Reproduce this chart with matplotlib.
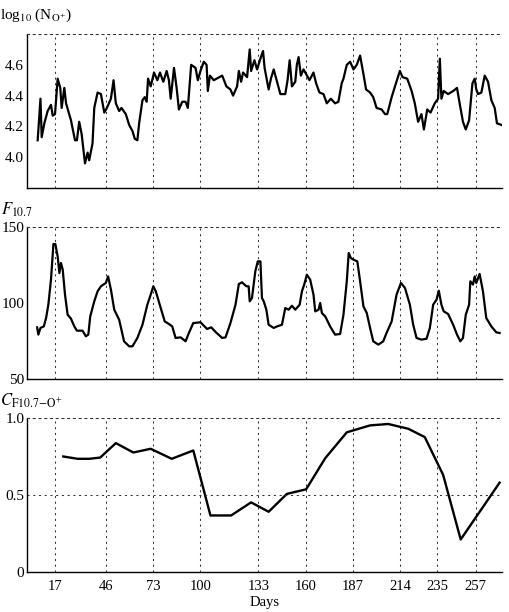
import matplotlib
matplotlib.use("Agg")
import matplotlib.pyplot as plt

plt.rcParams["font.family"] = ["Liberation Serif", "DejaVu Serif"]
plt.rcParams["mathtext.fontset"] = "stix"

# top panel: log10 of O+ density
n_days = [7.1, 8.7, 9.4, 10.9, 12.8, 14.7, 15.7, 17.0, 18.5, 20.0, 20.8, 22.3, 23.3, 26.1,
          28.4, 29.5, 30.8, 32.2, 34.1, 35.6, 36.5, 38.4, 39.4, 41.3, 43.2, 45.1, 46.6,
          48.9, 50.4, 51.7, 53.6, 54.9, 57.4, 59.3, 61.2, 62.5, 64.0, 65.0, 66.9, 68.2,
          69.3, 70.1, 71.6, 73.5, 75.4, 76.9, 78.8, 80.7, 82.0, 83.0, 84.9, 86.4, 87.7,
          89.6, 91.5, 92.8, 94.7, 97.2, 98.5, 100.0, 101.9, 103.5, 104.2, 105.4, 107.6,
          112.4, 114.8, 117.1, 118.6, 120.9, 121.9, 123.2, 124.3, 126.6, 128.1, 128.9,
          130.8, 132.3, 134.2, 135.7, 136.6, 138.9, 140.2, 141.8, 143.7, 145.6, 148.4,
          149.7, 150.9, 152.2, 154.1, 155.0, 156.0, 157.3, 158.8, 160.3, 162.2, 164.5,
          166.0, 167.9, 170.2, 172.1, 174.4, 176.8, 178.7, 180.6, 181.6, 183.5, 185.4,
          187.3, 189.2, 191.1, 193.0, 194.5, 196.8, 198.6, 200.5, 203.4, 205.3, 206.6,
          209.1, 211.0, 213.8, 215.3, 218.0, 220.5, 222.3, 224.2, 226.1, 227.5, 229.4,
          231.3, 233.7, 235.6, 236.6, 237.5, 238.8, 241.3, 244.2, 246.4, 247.9, 249.8,
          251.4, 253.3, 255.2, 256.5, 257.4, 258.4, 260.3, 262.2, 264.1, 266.0, 267.9,
          269.2, 271.7]
n_vals = [4.11, 4.38, 4.13, 4.22, 4.30, 4.34, 4.27, 4.28, 4.51, 4.45, 4.32, 4.45, 4.35, 4.24,
          4.11, 4.11, 4.23, 4.15, 3.96, 4.03, 3.98, 4.09, 4.32, 4.42, 4.41, 4.29, 4.32,
          4.38, 4.50, 4.35, 4.30, 4.32, 4.28, 4.21, 4.17, 4.12, 4.11, 4.22, 4.37, 4.39,
          4.36, 4.51, 4.46, 4.55, 4.50, 4.55, 4.49, 4.56, 4.50, 4.38, 4.58, 4.45, 4.31,
          4.36, 4.36, 4.32, 4.60, 4.58, 4.50, 4.56, 4.62, 4.60, 4.43, 4.53, 4.50,
          4.53, 4.46, 4.44, 4.40, 4.46, 4.56, 4.49, 4.55, 4.52, 4.70, 4.56,
          4.63, 4.57, 4.64, 4.69, 4.58, 4.44, 4.51, 4.57, 4.49, 4.41, 4.41,
          4.50, 4.63, 4.46, 4.49, 4.60, 4.65, 4.53, 4.57, 4.54, 4.50, 4.55,
          4.48, 4.42, 4.41, 4.35, 4.38, 4.35, 4.36, 4.48, 4.51, 4.60, 4.62,
          4.57, 4.60, 4.66, 4.54, 4.44, 4.42, 4.39, 4.32, 4.31, 4.28, 4.28,
          4.39, 4.46, 4.56, 4.52, 4.51, 4.43, 4.35, 4.23, 4.28, 4.18, 4.31,
          4.29, 4.35, 4.38, 4.64, 4.38, 4.43, 4.41, 4.43, 4.45, 4.35, 4.23,
          4.18, 4.24, 4.48, 4.51, 4.44, 4.41, 4.42, 4.53, 4.49, 4.37, 4.32,
          4.22, 4.21]

# middle panel: F10.7 solar flux
f_days = [6.8, 7.5, 8.7, 10.6, 11.9, 13.2, 14.7, 16.1, 17.2, 18.5, 19.5, 20.4, 21.4, 22.7,
          24.2, 26.1, 28.0, 29.5, 32.7, 34.6, 36.0, 37.1, 39.4, 41.3, 43.2, 46.0, 47.3,
          48.9, 50.8, 53.6, 56.4, 59.3, 61.2, 64.0, 66.9, 69.7, 71.6, 73.1, 74.5, 77.3,
          79.6, 82.0, 83.9, 85.8, 88.7, 91.5, 93.4, 95.9, 100.0, 102.3, 103.8, 106.1,
          109.2, 112.4, 114.3, 117.1, 120.0, 121.9, 123.7, 126.2, 127.5, 128.1, 129.4,
          131.3, 132.7, 134.2, 135.1, 136.1, 137.6, 138.9, 141.8, 143.7, 146.5, 148.4,
          150.3, 152.2, 154.1, 156.6, 157.9, 159.2, 160.7, 162.6, 164.5, 165.5, 167.4,
          168.3, 169.3, 171.2, 174.0, 176.8, 179.7, 181.6, 183.5, 184.6, 185.8, 187.3,
          189.5, 191.1, 193.0, 194.9, 196.8, 198.6, 201.5, 204.3, 206.2, 209.1, 211.9,
          214.4, 216.7, 219.5, 221.4, 223.3, 226.1, 229.0, 230.9, 232.8, 234.7, 236.0,
          237.5, 238.8, 241.3, 244.2, 246.4, 248.3, 249.8, 251.4, 253.3, 254.0, 255.5,
          256.5, 257.4, 259.3, 261.2, 263.1, 266.0, 268.8, 270.7]
f_vals = [84.0, 79.2, 83.6, 84.6, 90.1, 98.9, 115.4, 138.8, 138.8, 130.7, 119.7, 126.3, 121.9,
          105.5, 92.3, 89.7, 84.6, 81.8, 81.8, 78.1, 79.2, 91.2, 101.1, 107.7, 111.0,
          113.2, 117.5, 108.8, 95.6, 89.0, 74.8, 71.5, 71.5, 77.0, 85.7, 98.9, 105.5,
          111.0, 107.7, 96.7, 87.9, 86.2, 84.6, 77.0, 77.4, 74.8, 80.3, 86.8, 87.3,
          84.6, 82.9, 84.0, 80.3, 77.0, 77.4, 86.8, 98.9, 112.5, 113.6, 111.0, 111.0,
          101.1, 103.3, 120.8, 127.4, 127.4, 103.3, 101.1, 95.6, 85.7, 83.6, 84.6, 85.7,
          96.7, 95.6, 98.2, 95.6, 98.9, 107.7, 112.1, 118.6, 115.4, 105.5, 94.5, 95.6,
          100.0, 93.4, 91.2, 84.6, 79.2, 79.6, 92.3, 114.3, 132.9, 129.6, 128.5, 127.4,
          114.3, 97.8, 93.4, 83.6, 74.8, 72.6, 74.8, 80.3, 87.9, 105.5, 113.2, 109.9,
          98.9, 85.7, 77.0, 75.9, 76.5, 83.6, 98.9, 102.2, 108.1, 98.9, 94.5, 92.8,
          85.7, 79.2, 74.8, 77.0, 92.3, 98.9, 114.3, 112.1, 117.5, 113.2, 119.1, 107.7,
          90.1, 84.6, 80.7, 80.3]

# bottom panel: correlation coefficient F10.7 vs O+
c_days = [21.7, 29.9, 36.5, 42.8, 51.7, 61.7, 71.6, 83.6, 95.9, 105.7, 117.5, 128.9, 138.9,
          149.3, 160.3, 171.2, 183.5, 196.8, 207.2, 218.6, 228.0, 238.5, 248.5, 270.7]
c_vals = [0.75, 0.735, 0.735, 0.743, 0.837, 0.776, 0.80, 0.735, 0.789, 0.367, 0.367, 0.452,
          0.391, 0.507, 0.537, 0.739, 0.907, 0.952, 0.961, 0.930, 0.876, 0.63, 0.211, 0.58]

day_ticks = [17, 46, 73, 100, 133, 160, 187, 214, 235, 257]
x_range = (1, 272)

dash = (0, (2, 3.5))
grid_color = "#333333"

fig = plt.figure(figsize=(5.09, 6.12), dpi=100)
left, width = 0.053, 0.933
ax_n = fig.add_axes([left, 0.6928, width, 0.2516])
ax_f = fig.add_axes([left, 0.3807, width, 0.2484])
ax_c = fig.add_axes([left, 0.0654, width, 0.2516])

ax_n.plot(n_days, n_vals, color="black", lw=1.6)
ax_n.set_ylim(3.8, 4.8)
ax_n.set_yticks([4.0, 4.2, 4.4, 4.6])
ax_n.set_yticklabels(["4.0", "4.2", "4.4", "4.6"])

ax_f.plot(f_days, f_vals, color="black", lw=1.6)
ax_f.set_ylim(50, 150)
ax_f.set_yticks([50, 100, 150])

ax_c.plot(c_days, c_vals, color="black", lw=1.7)
ax_c.set_ylim(0, 1.0)
ax_c.set_yticks([0, 0.5, 1.0])
ax_c.set_yticklabels(["0", "0.5", "1.0"])
ax_c.axhline(0.5, color=grid_color, lw=0.75, linestyle=dash)

for ax in (ax_n, ax_f, ax_c):
    ax.set_xlim(*x_range)
    ax.set_xticks(day_ticks)
    ax.grid(axis="x", color=grid_color, lw=0.75, linestyle=dash)
    ax.spines["right"].set_visible(False)
    ax.spines["top"].set_linestyle(dash)
    ax.spines["top"].set_linewidth(0.75)
    ax.spines["top"].set_color(grid_color)
    ax.spines["left"].set_linewidth(1.0)
    ax.spines["bottom"].set_linewidth(1.0)
    ax.tick_params(length=0, labelsize=11, pad=2)

ax_n.tick_params(axis="x", labelbottom=False)
ax_f.tick_params(axis="x", labelbottom=False)
ax_c.tick_params(axis="x", labelsize=10.5, pad=6)
ax_c.set_xlabel("Days", fontsize=10.5, labelpad=2)

fig.text(0.0, 0.975, r"log$_{10}$ (N$_{\mathrm{O^{+}}}$)", fontsize=11, va="center", ha="left")
fig.text(0.002, 0.657, r"$F_{\mathrm{10.7}}$", fontsize=12, va="center", ha="left")
fig.text(0.0, 0.345, r"$C_{\mathrm{F10.7\!-\!O^{+}}}$", fontsize=12, va="center", ha="left")

fig.savefig("out.png", dpi=100)
plt.close(fig)
